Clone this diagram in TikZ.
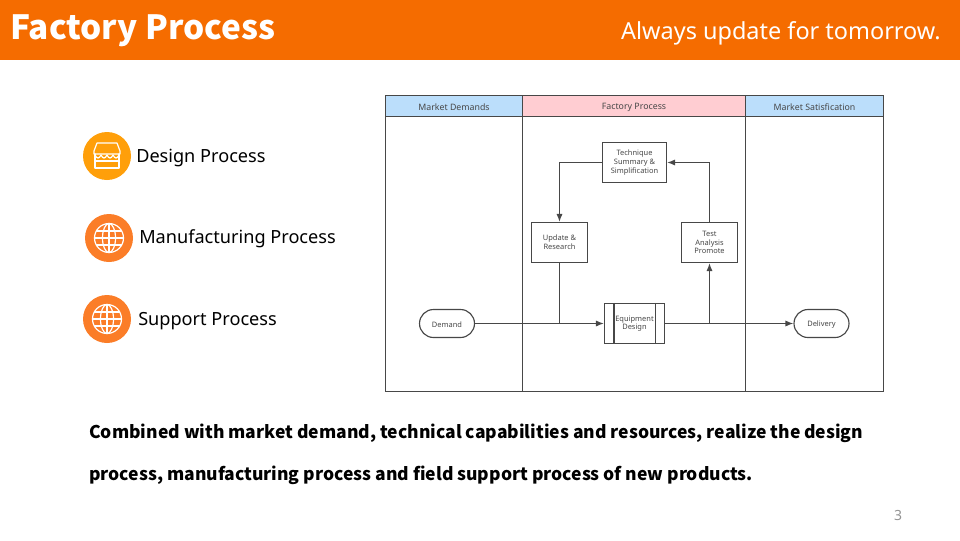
\documentclass[tikz,border=0pt]{standalone}
\usepackage{fontspec}
\setmainfont{Noto Sans}
\newfontfamily\heavyfont{Noto Sans CJK SC}
\usetikzlibrary{arrows.meta,calc,shapes.misc}
\definecolor{fpOrange}{HTML}{F56C00}
\definecolor{fpAmber}{HTML}{FF9F0A}
\definecolor{fpCoral}{HTML}{FB7D28}
\definecolor{fpInk}{HTML}{474747}
\definecolor{fpBlue}{HTML}{BBDEFB}
\definecolor{fpPink}{HTML}{FFCDD2}
\tikzset{
 slide/.style={line cap=butt,line join=miter,text=fpInk},
 lanehead/.style={draw=fpInk,line width=.85pt,rectangle,minimum height=15.75pt,inner sep=0pt,font=\fontsize{6.6}{8}\selectfont,execute at begin node={\rule{0pt}{7.2pt}}},
 lane/.style={draw=fpInk,line width=.85pt},
 stepbox/.style={rectangle,draw=fpInk,fill=white,line width=.85pt,inner sep=0pt,align=center,font=\fontsize{5.6}{6.5}\selectfont,execute at begin node={\rule{0pt}{7.5pt}}},
 pill/.style={rounded rectangle,draw=fpInk,fill=white,line width=.85pt,inner sep=0pt,minimum width=41.25pt,minimum height=21pt,font=\fontsize{5.6}{6.5}\selectfont,execute at begin node={\rule{0pt}{6pt}}},
 flow/.style={draw=fpInk,line width=.85pt,-{Latex[length=6pt,width=4.6pt]}},
 joinline/.style={draw=fpInk,line width=.85pt},
 itemlabel/.style={font=\fontsize{13.6}{17}\selectfont,anchor=west,text=black,inner sep=0pt},
 bodyline/.style={font=\heavyfont\fontsize{13.14}{17}\selectfont\bfseries,anchor=west,text=black,inner sep=0pt},
 iconline/.style={draw=white,line width=.9pt,line join=round,line cap=round}
}
\newcommand{\globeIcon}[3]{%
 \begin{scope}[shift={(#1,#2)}]
 \fill[#3] (0,0) circle (24);
 \draw[iconline] (0,0) circle (14.5);
 \draw[iconline] (0,0) ellipse (6.5 and 14.5);
 \draw[iconline] (0,-14.5)--(0,14.5);
 \draw[iconline] (-14.5,0)--(14.5,0);
 \draw[iconline] (-12.6,-7)--(12.6,-7);
 \draw[iconline] (-12.6,7)--(12.6,7);
 \end{scope}}
\newcommand{\storeIcon}[3]{%
 \begin{scope}[shift={(#1,#2)}]
 \fill[#3] (0,0) circle (24);
 \draw[iconline] (-13,-5)--(-10,-13)--(10,-13)--(13,-5)--(13,-2)--(-13,-2)--cycle;
 \draw[iconline] (-12,-2)--(-12,12)--(12,12)--(12,-2);
 \draw[iconline] (-12,-1) .. controls (-10,3) and (-8,3) .. (-6,-1) .. controls (-4,3) and (-2,3) .. (0,-1) .. controls (2,3) and (4,3) .. (6,-1) .. controls (8,3) and (10,3) .. (12,-1);
 \draw[iconline] (-12,5)--(12,5);
 \end{scope}}
\begin{document}
\begin{tikzpicture}[slide,x=.75pt,y=-.75pt]
 \useasboundingbox (0,0) rectangle (960,540);
 \fill[fpOrange] (0,0) rectangle (960,60);
 \node[font=\heavyfont\fontsize{25}{30}\selectfont\bfseries,anchor=west,text=white,inner sep=0pt] (title) at (10,31) {Factory Process};
 \node[font=\fontsize{17.6}{21}\selectfont,anchor=east,text=white,inner sep=0pt] (motto) at (941,33.5) {Always update for tomorrow.};
 % left list
 \storeIcon{107}{156}{fpAmber}
 \globeIcon{109}{238}{fpCoral}
 \globeIcon{107}{319}{fpCoral}
 \node[itemlabel] (design) at (136,158) {Design Process};
 \node[itemlabel] (manufacturing) at (139,239) {Manufacturing Process};
 \node[itemlabel] (support) at (138,321) {Support Process};
 % swimlanes
 \node[lanehead,fill=fpBlue,minimum width=102.75pt] (headA) at (454,106) {Market Demands};
 \node[lanehead,fill=fpPink,minimum width=167.25pt] (headB) at (634,106) {Factory Process};
 \node[lanehead,fill=fpBlue,minimum width=103.5pt] (headC) at (814.5,106) {Market Satisfication};
 \draw[lane] (385.5,116.5)--(385.5,391.5)--(883.5,391.5)--(883.5,116.5);
 \draw[lane] (522.5,116.5)--(522.5,391.5);
 \draw[lane] (745.5,116.5)--(745.5,391.5);
 % process steps
 \node[stepbox,minimum width=48pt,minimum height=30pt] (technique) at (634.5,162.5) {Technique\\Summary \&\\Simplification};
 \node[stepbox,minimum width=42pt,minimum height=30pt] (update) at (559.5,242.5) {Update \&\\Research};
 \node[stepbox,minimum width=42pt,minimum height=30pt] (test) at (709.5,242.5) {Test\\Analysis\\Promote};
 \node[stepbox,minimum width=45pt,minimum height=30pt] (equipment) at (634.5,323.5) {Equipment\\Design};
 \draw[lane] ($(equipment.north west)+(10,0)$)--($(equipment.south west)+(10,0)$);
 \draw[lane] ($(equipment.north east)+(-10,0)$)--($(equipment.south east)+(-10,0)$);
 \node[pill] (demand) at (447,323.5) {Demand};
 \node[pill] (delivery) at (821.5,323.5) {Delivery};
 \coordinate (joinA) at (update.south |- demand.east);
 \coordinate (joinB) at (test.south |- delivery.west);
 % connectors
 \draw[flow] (technique.west) -| (update.north);
 \draw[flow] (test.north) |- (technique.east);
 \draw[joinline] (update.south)--(joinA);
 \draw[flow] (demand.east)--(equipment.west);
 \draw[flow] (equipment.east)--(delivery.west);
 \draw[flow] (joinB)--(test.south);
 % closing text
 \node[bodyline] (bodyA) at (89,433.5) {Combined with market demand, technical capabilities and resources, realize the design};
 \node[bodyline] (bodyB) at (89,475.5) {process, manufacturing process and field support process of new products.};
 \node[font=\fontsize{10.5}{12}\selectfont,text=gray!85,inner sep=0pt] (page) at (898,515) {3};
\end{tikzpicture}
\end{document}
